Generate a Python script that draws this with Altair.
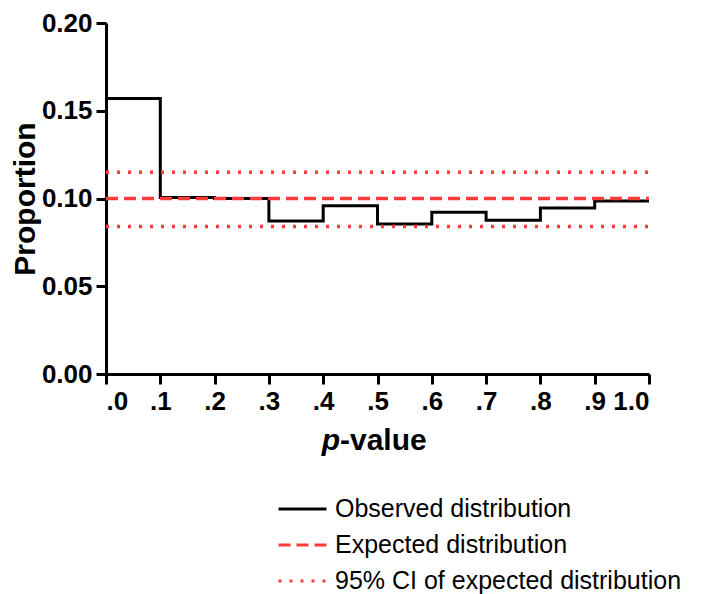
import altair as alt
import pandas as pd

# ---- data ----
bin_starts = [0.0, 0.1, 0.2, 0.3, 0.4, 0.5, 0.6, 0.7, 0.8, 0.9]
observed = [0.157, 0.1005, 0.100, 0.0872, 0.0959, 0.0854, 0.0922, 0.0876, 0.0946, 0.0986]
expected_value = 0.100
ci_upper = 0.115
ci_lower = 0.084
x_ticks = [0.0, 0.1, 0.2, 0.3, 0.4, 0.5, 0.6, 0.7, 0.8, 0.9, 1.0]
y_ticks = [0.0, 0.05, 0.10, 0.15, 0.20]
series_names = ["Observed distribution", "Expected distribution",
                "95% CI of expected distribution"]

RED = "#ff3b3b"
FONT = "Liberation Sans"

obs_df = pd.DataFrame({
    "x": bin_starts + [1.0],
    "y": observed + [observed[-1]],
    "series": series_names[0],
})
ref_df = pd.DataFrame({
    "x": [0.0, 1.0, 0.0, 1.0, 0.0, 1.0],
    "y": [expected_value, expected_value, ci_upper, ci_upper, ci_lower, ci_lower],
    "series": [series_names[1]] * 2 + [series_names[2]] * 4,
    "line": ["exp", "exp", "up", "up", "lo", "lo"],
})

x_enc = alt.X("x:Q", scale=alt.Scale(domain=[0, 1], nice=False),
              axis=alt.Axis(values=x_ticks, title=None,
                            labelExpr="datum.value == 1 ? '1.0' : '.' + format(round(datum.value*10), 'd')"))
y_enc = alt.Y("y:Q", scale=alt.Scale(domain=[0, 0.2], nice=False),
              axis=alt.Axis(values=y_ticks, format=".2f", title="Proportion",
                            titlePadding=1))

legend = alt.Legend(title=None, orient="none", legendX=171, legendY=468,
                    symbolType="stroke", symbolSize=2304, symbolStrokeWidth=3,
                    labelFontSize=25, labelFont=FONT, labelColor="black",
                    labelOffset=7, rowPadding=0, clipHeight=36,
                    labelLimit=0, padding=0)
color_enc = alt.Color("series:N", scale=alt.Scale(domain=series_names,
                                                  range=["black", RED, RED]),
                      legend=legend)
dash_enc = alt.StrokeDash("series:N", scale=alt.Scale(domain=series_names,
                                                      range=[[1, 0], [12, 6], [3, 8]]),
                          legend=legend)

obs_line = alt.Chart(obs_df).mark_line(interpolate="step-after", strokeWidth=3).encode(
    x=x_enc, y=y_enc, color=color_enc, strokeDash=dash_enc)
ref_lines = alt.Chart(ref_df).mark_line(strokeWidth=3.5).encode(
    x="x:Q", y="y:Q", color=color_enc, strokeDash=dash_enc, detail="line:N")

title_p = alt.Chart(pd.DataFrame({"t": ["p"]})).mark_text(
    font=FONT, fontSize=30, fontWeight="bold", fontStyle="italic",
    align="right", baseline="alphabetic", color="black").encode(
    x=alt.value(234), y=alt.value(427), text="t:N")
title_rest = alt.Chart(pd.DataFrame({"t": ["-value"]})).mark_text(
    font=FONT, fontSize=30, fontWeight="bold",
    align="left", baseline="alphabetic", color="black").encode(
    x=alt.value(234), y=alt.value(427), text="t:N")

chart = alt.layer(obs_line, ref_lines, title_p, title_rest).properties(
    width=543, height=351,
    autosize=alt.AutoSizeParams(type="none"),
    padding={"left": 98, "top": 15, "right": 50, "bottom": 240},
).configure_view(stroke=None).configure_axis(
    grid=False, domainColor="black", domainWidth=3, tickColor="black",
    tickWidth=3, tickSize=10, labelFont=FONT, labelFontSize=26,
    labelFontWeight="bold", labelColor="black", labelPadding=4,
    titleFont=FONT, titleFontSize=30, titleFontWeight="bold", titleColor="black",
)

chart.save("out.html", embed_options={"renderer": "svg", "actions": False})
